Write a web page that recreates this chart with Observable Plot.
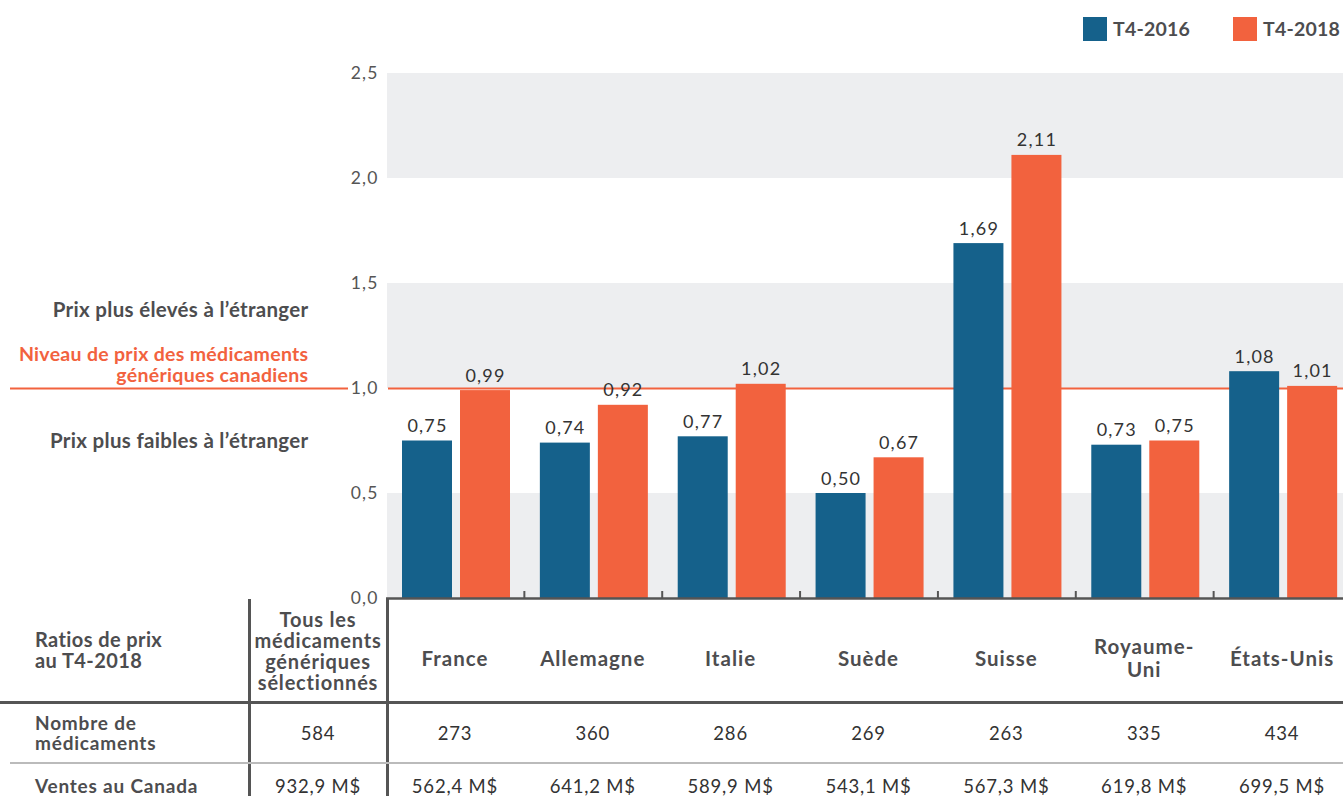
<!DOCTYPE html>
<html><head><meta charset="utf-8">
<script src="https://cdn.jsdelivr.net/npm/d3@7"></script>
<script src="https://cdn.jsdelivr.net/npm/@observablehq/plot@0.6"></script>
<style>
body{margin:0;background:#fff;overflow:hidden;font-family:Lato,"DejaVu Sans",sans-serif;}
#wrap{position:relative;width:1343px;height:796px;overflow:hidden;}
#chart{position:absolute;left:0;top:0;}
#chart svg{overflow:visible;}
#chart svg text{letter-spacing:0.3px;}
#chart svg g.num text{letter-spacing:1.2px;}
.lg-sw{position:absolute;width:24px;height:24px;}
.lg-tx{position:absolute;font-weight:700;font-size:19.5px;color:#4d4d4f;line-height:24px;letter-spacing:0.2px;white-space:nowrap;}
.cell{position:absolute;display:flex;align-items:center;justify-content:center;text-align:center;color:#333;white-space:pre;}
.hd{font-weight:700;color:#4d4d4f;font-size:20px;line-height:21px;letter-spacing:0.8px;}
.hd.ctry{font-size:20.5px;line-height:23px;letter-spacing:1px;}
.rl{position:absolute;font-weight:700;color:#4d4d4f;font-size:19px;line-height:20px;display:flex;align-items:center;white-space:pre;letter-spacing:0.8px;}
.rl.title{font-size:20px;line-height:21px;letter-spacing:0.4px;}
.val{font-size:18.5px;letter-spacing:0.8px;}
.ln{position:absolute;}
</style></head>
<body><div id="wrap"><div id="chart"></div></div>
<script>
// ---- data ----
const countries = ["France","Allemagne","Italie","Suède","Suisse","Royaume-Uni","États-Unis"];
const countryLabels = ["France","Allemagne","Italie","Suède","Suisse","Royaume-\nUni","États-Unis"];
const series = ["T4-2016","T4-2018"];
const values2016 = [0.75,0.74,0.77,0.50,1.69,0.73,1.08];
const values2018 = [0.99,0.92,1.02,0.67,2.11,0.75,1.01];
const yTicks = [0,0.5,1.0,1.5,2.0,2.5];
const shadedBands = [[0,0.5],[1.0,1.5],[2.0,2.5]];
const referenceLevel = 1.0;
const sideNotes = [
  {y: 1.37, text: "Prix plus élevés à l’étranger"},
  {y: 0.75, text: "Prix plus faibles à l’étranger"}
];
const referenceNote = "Niveau de prix des médicaments\ngénériques canadiens";
const tableTitle = "Ratios de prix\nau T4-2018";
const allDrugsHeader = "Tous les\nmédicaments\ngénériques\nsélectionnés";
const rowLabels = ["Nombre de\nmédicaments","Ventes au Canada"];
const allDrugsValues = ["584","932,9 M$"];
const drugCounts = ["273","360","286","269","263","335","434"];
const salesCanada = ["562,4 M$","641,2 M$","589,9 M$","543,1 M$","567,3 M$","619,8 M$","699,5 M$"];

const BLUE = "#15618b", ORANGE = "#f2623e", BAND = "#edeef0", TXT = "#4d4d4f";
const fmt = v => v.toFixed(2).replace(".", ",");

const d16 = countries.map((c,i)=>({country:c, v: values2016[i]}));
const d18 = countries.map((c,i)=>({country:c, v: values2018[i]}));

const W = 1343, H = 600, mT = 73, mB = 2, mL = 386;
const x0 = 386, x1 = 1351;
const bw = (x1 - x0) / countries.length;
const frameH = H - mT - mB;

const chart = Plot.plot({
  width: W, height: H,
  marginTop: mT, marginBottom: mB, marginLeft: mL, marginRight: 0,
  style: {fontFamily: "Lato, 'DejaVu Sans', sans-serif", background: "transparent", overflow: "visible"},
  x: {type: "band", domain: countries, range: [x0, x1], padding: 0, round: false, axis: null},
  y: {domain: [0, 2.5], axis: null},
  marks: [
    Plot.rect(shadedBands, {y1: d => d[0], y2: d => d[1], fill: BAND, insetLeft: 1}),
    Plot.axisY(yTicks, {tickSize: 0, tickPadding: 8, tickFormat: d => d.toFixed(1).replace(".", ","), fontSize: 17.5, fill: "#555", anchor: "left", className: "num"}),
    Plot.ruleY([referenceLevel], {stroke: ORANGE, strokeWidth: 2.2, insetLeft: -(mL - 10), insetRight: W - 348}),
    Plot.ruleY([referenceLevel], {stroke: ORANGE, strokeWidth: 2.2, insetLeft: 2}),
    Plot.text(sideNotes, {y: "y", text: "text", frameAnchor: "left", textAnchor: "end", dx: -78,
      fill: TXT, fontWeight: 700, fontSize: 20.5}),
    Plot.text([referenceLevel], {y: d => d, text: () => referenceNote, frameAnchor: "left", textAnchor: "end", dx: -78,
      dy: -7, lineAnchor: "bottom", lineHeight: 1.05, fill: ORANGE, fontWeight: 700, fontSize: 19.5}),
    Plot.barY(d16, {x: "country", y: "v", fill: BLUE, insetLeft: 16, insetRight: bw - 66}),
    Plot.barY(d18, {x: "country", y: "v", fill: ORANGE, insetLeft: 74, insetRight: bw - 124}),
    Plot.text(d16, {x: "country", y: "v", text: d => fmt(d.v), dx: 41 - bw/2, dy: -9, lineAnchor: "bottom", fontSize: 18, fill: "#333", className: "num"}),
    Plot.text(d18, {x: "country", y: "v", text: d => fmt(d.v), dx: 99 - bw/2, dy: -9, lineAnchor: "bottom", fontSize: 18, fill: "#333", className: "num"}),
    Plot.ruleY([0], {stroke: "#555", strokeWidth: 2.5}),
    Plot.ruleX(countries.slice(1), {x: d => d, dx: -bw/2, stroke: "#555", strokeWidth: 2, insetTop: frameH - 7})
  ]
});
document.getElementById("chart").appendChild(chart);

// ---- legend ----
const wrap = document.getElementById("wrap");
function add(cls, css, text){
  const el = document.createElement("div");
  el.className = cls; Object.assign(el.style, css);
  if (text != null) el.textContent = text;
  wrap.appendChild(el); return el;
}
[[1083, BLUE, series[0]], [1233, ORANGE, series[1]]].forEach(([lx, c, t]) => {
  add("lg-sw", {left: lx+"px", top: "17px", background: c});
  add("lg-tx", {left: (lx+30)+"px", top: "17px"}, t);
});

// ---- table ----
const rowTops = [598, 702, 763], rowBots = [702, 763, 808];
add("rl title", {left: "35px", top: rowTops[0]+"px", height: (rowBots[0]-rowTops[0])+"px"}, tableTitle);
add("cell hd", {left: "249px", top: "600px", width: "138px", height: "102px"}, allDrugsHeader);
countries.forEach((c,i)=>{
  add("cell hd ctry", {left: (x0 + i*bw)+"px", top: (rowTops[0]+8)+"px", width: bw+"px", height: (rowBots[0]-rowTops[0])+"px"}, countryLabels[i]);
});
rowLabels.forEach((t,r)=>{
  add("rl", {left: "35px", top: rowTops[r+1]+"px", height: (rowBots[r+1]-rowTops[r+1])+"px"}, t);
  add("cell val", {left: "249px", top: rowTops[r+1]+"px", width: "138px", height: (rowBots[r+1]-rowTops[r+1])+"px"}, allDrugsValues[r]);
  const vals = r === 0 ? drugCounts : salesCanada;
  countries.forEach((c,i)=>{
    add("cell val", {left: (x0 + i*bw)+"px", top: rowTops[r+1]+"px", width: bw+"px", height: (rowBots[r+1]-rowTops[r+1])+"px"}, vals[i]);
  });
});
add("ln", {left: "248px", top: "599px", width: "2.5px", height: "200px", background: "#555"});
add("ln", {left: "386px", top: "598px", width: "2.5px", height: "200px", background: "#555"});
add("ln", {left: "0px", top: "701px", width: W+"px", height: "3px", background: "#555"});
add("ln", {left: "10px", top: "762px", width: W+"px", height: "1.5px", background: "#bbb"});
</script></body></html>
